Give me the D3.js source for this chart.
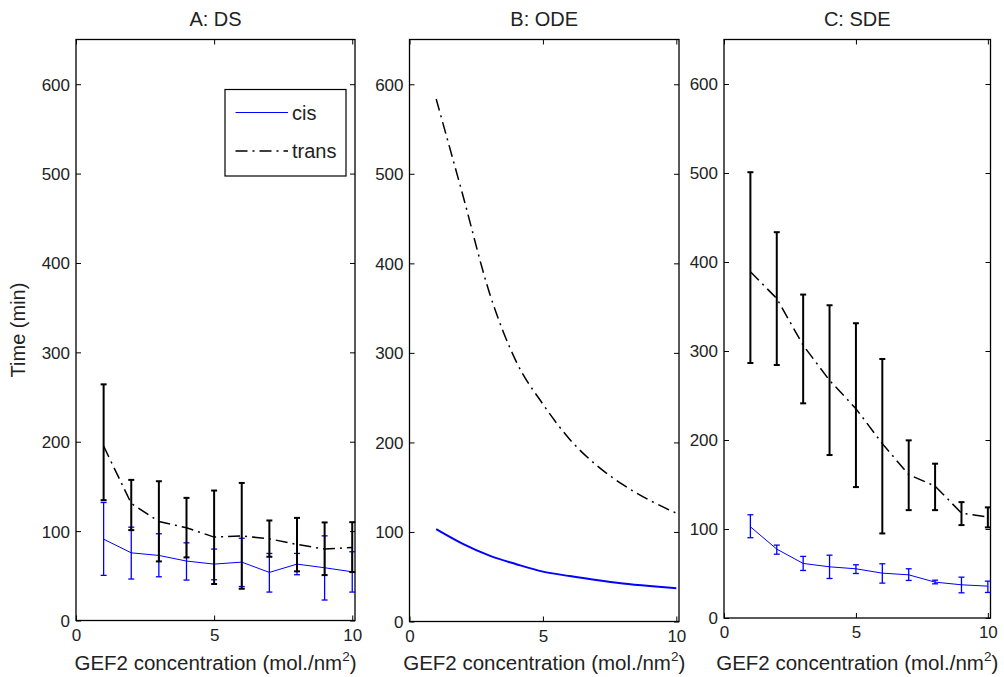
<!DOCTYPE html>
<html>
<head>
<meta charset="utf-8">
<script src="https://cdn.jsdelivr.net/npm/d3@7"></script>
<style>
  html, body { margin: 0; padding: 0; background: #fff; }
  svg text { font-family: "Liberation Sans", Arial, Helvetica, sans-serif; fill: #222; }
</style>
</head>
<body>
<svg id="chart" width="1004" height="677"></svg>
<script>
// ---------------- data ----------------
const concentration = [1, 2, 3, 4, 5, 6, 7, 8, 9, 10];
const xTickValues = [0, 5, 10];
const yTickValues = [0, 100, 200, 300, 400, 500, 600];
const panelTitles = ["A: DS", "B: ODE", "C: SDE"];
const seriesNames = ["cis", "trans"];
const xLabelText = "GEF2 concentration (mol./nm";
const yLabelText = "Time (min)";

// A: DS
const dsCis      = [91, 75.7, 72.8, 66.5, 63.1, 65.3, 53.8, 63.1, 59.0, 54.5];
const dsCisLow   = [50.5, 46.4, 48.9, 45.2, 45.6, 38, 31.8, 51.2, 22.9, 31.8];
const dsCisHigh  = [132, 104.4, 97, 86.9, 79.9, 92, 75, 75, 94.7, 76.9];
const dsTrans     = [195, 131, 110.8, 103.7, 93.3, 94.7, 91.4, 85.1, 79.9, 81.8];
const dsTransLow  = [134.6, 101.1, 66.1, 70.6, 40.8, 35.5, 71.3, 55, 50.8, 54.2];
const dsTransHigh = [264.2, 157.3, 155.8, 137.2, 145.4, 153.9, 111.9, 114.8, 109.7, 110];

// B: ODE
const odeCis   = [103.2, 86.7, 73.5, 64, 55.7, 50.8, 46.3, 42.5, 39.6, 37.2];
const odeTrans = [583.5, 476, 366.7, 290.3, 242.8, 203.6, 174.7, 152.8, 135.4, 121];

// C: SDE
const sdeCis      = [102.5, 77.4, 61.3, 57.5, 55.3, 50.4, 48.5, 40.3, 37.3, 35.8];
const sdeCisLow   = [90.2, 71.7, 53.4, 44.4, 50, 39.2, 42.2, 38.4, 28.3, 28.7];
const sdeCisHigh  = [116, 81.9, 69.2, 70.6, 59.8, 60.9, 55.3, 42.5, 45.9, 41.4];
const sdeTrans     = [389, 359, 306.4, 267, 235.2, 195.9, 161, 148.2, 117.9, 113.4];
const sdeTransLow  = [286.5, 284.3, 241.2, 183.1, 147.1, 95, 121.2, 121.2, 104.4, 101.8];
const sdeTransHigh = [500.9, 433.5, 363.4, 351.4, 331.2, 291, 199.6, 173.4, 130.2, 124.3];

// ---------------- layout ----------------
const xDomain = [0, 10.1];
const yDomain = [0, 650];
const panels = [
  { left: 76,  right: 355, top: 39.5, bottom: 620.5, title: panelTitles[0],
    cis: dsCis, cisLow: dsCisLow, cisHigh: dsCisHigh,
    trans: dsTrans, transLow: dsTransLow, transHigh: dsTransHigh, legend: true, ode: false },
  { left: 409.5, right: 679, top: 39.5, bottom: 621.5, title: panelTitles[1],
    cis: odeCis, trans: odeTrans, legend: false, ode: true },
  { left: 724, right: 990.5, top: 39.5, bottom: 618, title: panelTitles[2],
    cis: sdeCis, cisLow: sdeCisLow, cisHigh: sdeCisHigh,
    trans: sdeTrans, transLow: sdeTransLow, transHigh: sdeTransHigh, legend: false, ode: false }
];

const svg = d3.select("#chart");
const BLUE = "#0000ff";
const DASHDOT = "12,5,2,5";
const tickFont = "17px";

panels.forEach((p, i) => {
  const x = d3.scaleLinear().domain(xDomain).range([p.left, p.right]);
  const y = d3.scaleLinear().domain(yDomain).range([p.bottom, p.top]);
  const g = svg.append("g");

  // frame
  g.append("rect")
    .attr("x", p.left).attr("y", p.top)
    .attr("width", p.right - p.left).attr("height", p.bottom - p.top)
    .attr("fill", "none").attr("stroke", "#000").attr("stroke-width", 1.3);

  // axes (inward ticks)
  const axB = g.append("g").attr("transform", `translate(0,${p.bottom})`)
    .call(d3.axisBottom(x).tickValues(xTickValues).tickSizeInner(-5).tickSizeOuter(0).tickPadding(10).tickFormat(d3.format("d")));
  const axT = g.append("g").attr("transform", `translate(0,${p.top})`)
    .call(d3.axisTop(x).tickValues(xTickValues).tickSizeInner(-5).tickSizeOuter(0).tickFormat(""));
  const axL = g.append("g").attr("transform", `translate(${p.left},0)`)
    .call(d3.axisLeft(y).tickValues(yTickValues).tickSizeInner(-5).tickSizeOuter(0).tickPadding(6).tickFormat(d3.format("d")));
  const axR = g.append("g").attr("transform", `translate(${p.right},0)`)
    .call(d3.axisRight(y).tickValues(yTickValues).tickSizeInner(-5).tickSizeOuter(0).tickFormat(""));
  [axB, axT, axL, axR].forEach(a => {
    a.select(".domain").remove();
    a.selectAll(".tick line").attr("stroke", "#000").attr("stroke-width", 1);
    a.selectAll("text").style("font-size", tickFont).attr("fill", "#222")
      .style("font-family", '"Liberation Sans", Arial, Helvetica, sans-serif');
  });
  axB.selectAll("text").attr("dy", "0.71em").attr("y", 8);
  axL.selectAll("text").attr("x", -6).attr("dy", "0.35em");

  // title
  g.append("text")
    .attr("x", (p.left + p.right) / 2).attr("y", 26)
    .attr("text-anchor", "middle").style("font-size", "20px")
    .text(p.title);

  // x label with superscript
  const xl = g.append("text")
    .attr("x", (p.left + p.right) / 2).attr("y", 670)
    .attr("text-anchor", "middle").style("font-size", "20.5px");
  xl.append("tspan").text(xLabelText);
  xl.append("tspan").attr("dy", -9).style("font-size", "13.5px").text("2");
  xl.append("tspan").attr("dy", 9).text(")");

  const lineGen = d3.line().x((d, j) => x(concentration[j])).y(d => y(d));
  const smoothGen = d3.line().x((d, j) => x(concentration[j])).y(d => y(d)).curve(d3.curveMonotoneX);

  const drawErr = (low, high, color, w, capHalf) => {
    const eg = g.append("g");
    concentration.forEach((c, j) => {
      eg.append("line").attr("x1", x(c)).attr("x2", x(c)).attr("y1", y(low[j])).attr("y2", y(high[j]))
        .attr("stroke", color).attr("stroke-width", w);
      [low[j], high[j]].forEach(v => {
        eg.append("line").attr("x1", x(c) - capHalf).attr("x2", x(c) + capHalf).attr("y1", y(v)).attr("y2", y(v))
          .attr("stroke", color).attr("stroke-width", w);
      });
    });
  };

  if (p.ode) {
    g.append("path").datum(p.trans).attr("d", smoothGen)
      .attr("fill", "none").attr("stroke", "#000").attr("stroke-width", 1.5).attr("stroke-dasharray", DASHDOT);
    g.append("path").datum(p.cis).attr("d", smoothGen)
      .attr("fill", "none").attr("stroke", BLUE).attr("stroke-width", 2);
  } else {
    // cis (blue)
    drawErr(p.cisLow, p.cisHigh, BLUE, 1.3, 3);
    g.append("path").datum(p.cis).attr("d", lineGen)
      .attr("fill", "none").attr("stroke", BLUE).attr("stroke-width", 1);
    // trans (black)
    drawErr(p.transLow, p.transHigh, "#000", 2, 3);
    g.append("path").datum(p.trans).attr("d", lineGen)
      .attr("fill", "none").attr("stroke", "#000").attr("stroke-width", 1.5).attr("stroke-dasharray", DASHDOT);
  }

  if (p.legend) {
    const lg = g.append("g");
    lg.append("rect").attr("x", 225).attr("y", 89.5).attr("width", 121).attr("height", 86.5)
      .attr("fill", "#fff").attr("stroke", "#000").attr("stroke-width", 1.2);
    const items = [
      { name: seriesNames[0], color: BLUE, dash: null, w: 1, yy: 112.5 },
      { name: seriesNames[1], color: "#000", dash: DASHDOT, w: 1.5, yy: 151 }
    ];
    items.forEach(it => {
      lg.append("line").attr("x1", 235.5).attr("x2", 288).attr("y1", it.yy).attr("y2", it.yy)
        .attr("stroke", it.color).attr("stroke-width", it.w).attr("stroke-dasharray", it.dash);
      lg.append("text").attr("x", 292).attr("y", it.yy).attr("dy", "0.35em")
        .style("font-size", "20px").text(it.name);
    });
  }
});

// y label
svg.append("text")
  .attr("transform", "translate(25,330) rotate(-90)")
  .attr("text-anchor", "middle").style("font-size", "20px")
  .text(yLabelText);
</script>
</body>
</html>
